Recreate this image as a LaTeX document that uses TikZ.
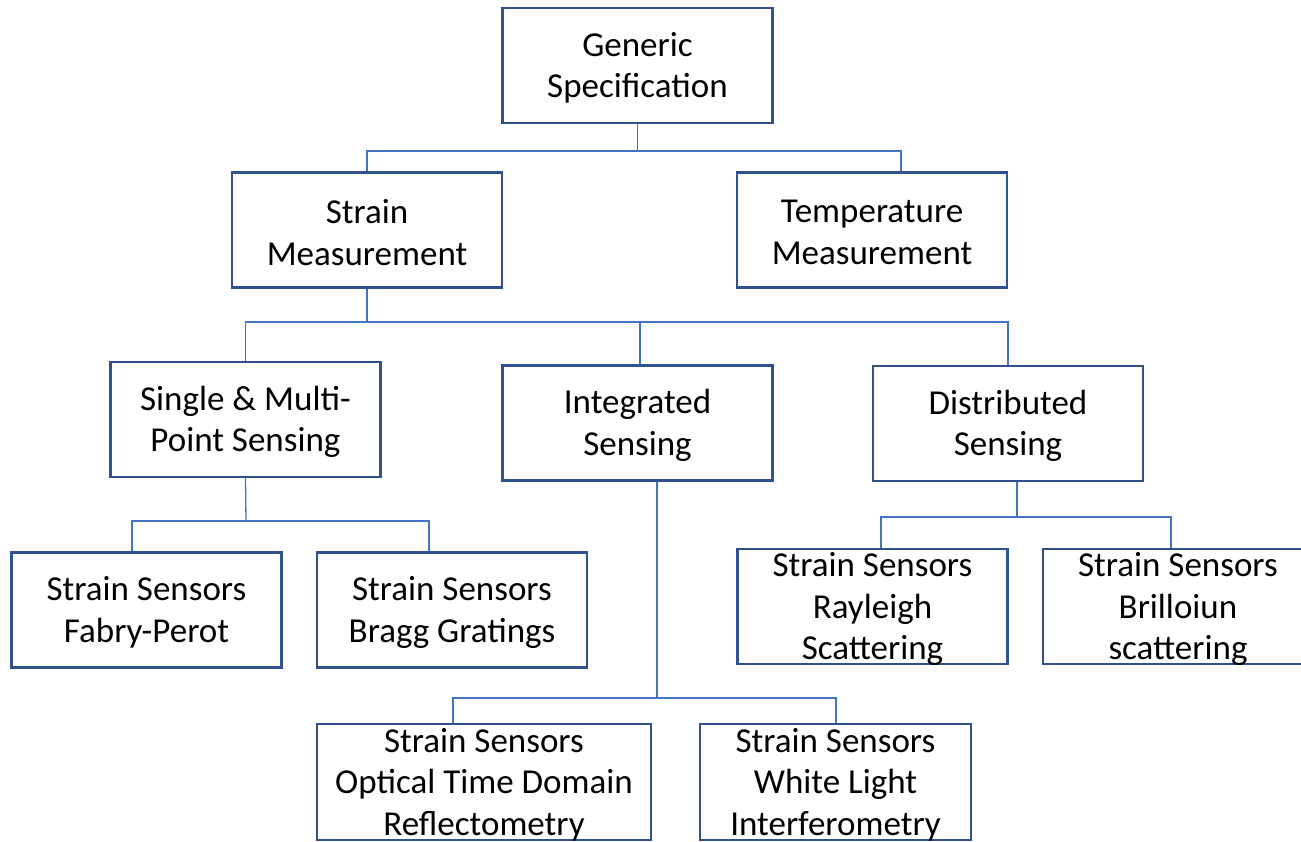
\documentclass[tikz,border=0pt]{standalone}
\usepackage{fontspec}
\setmainfont{Carlito}
\usetikzlibrary{calc}
\definecolor{boxblue}{HTML}{2F528F}
\definecolor{lineblue}{HTML}{4472C4}
\begin{document}
\begin{tikzpicture}[x=1pt,y=-1pt,
  box/.style={draw=boxblue, line width=2.2pt, minimum width=270pt, minimum height=115pt,
    inner sep=0pt},
  txt/.style={inner sep=0pt, align=center, yshift=-2.5pt, font=\fontsize{35}{41.5}\selectfont},
  conn/.style={draw=lineblue, line width=1.3pt}]
\useasboundingbox (0,0) rectangle (1301,842);
\clip (0,0) rectangle (1301,842);
\fill[white] (0,0) rectangle (1301,842);
% boxes
\node[box] (gen) at (637.5,65.5) {};
\node[txt] (genT) at (gen) {Generic\\Specification};
\node[box] (strain) at (367,230) {};
\node[txt] (strainT) at (strain) {Strain\\Measurement};
\node[box] (temp) at (872,230) {};
\node[txt] (tempT) at (temp) {Temperature\\Measurement};
\node[box] (single) at (245.5,419.5) {};
\node[txt] (singleT) at (single) {Single \& Multi-\\Point Sensing};
\node[box] (integ) at (637.5,423) {};
\node[txt] (integT) at (integ) {Integrated\\Sensing};
\node[box] (dist) at (1008,423.5) {};
\node[txt] (distT) at (dist) {Distributed\\Sensing};
\node[box] (fabry) at (146.5,610) {};
\node[txt] (fabryT) at (fabry) {Strain Sensors\\Fabry-Perot};
\node[box] (bragg) at (452,610) {};
\node[txt] (braggT) at (bragg) {Strain Sensors\\Bragg Gratings};
\node[box] (ray) at (872.5,606.5) {};
\node[txt] (rayT) at (ray) {Strain Sensors\\Rayleigh\\Scattering};
\node[box] (bril) at (1178,606.5) {};
\node[txt] (brilT) at (bril) {Strain Sensors\\Brilloiun\\scattering};
\node[box, minimum width=334pt, minimum height=116pt] (otdr) at (484,782) {};
\node[txt] (otdrT) at (otdr) {Strain Sensors\\Optical Time Domain\\Reflectometry};
\node[box, minimum width=271pt, minimum height=116pt] (white) at (835.5,782) {};
\node[txt] (whiteT) at (white) {Strain Sensors\\White Light\\Interferometry};
% junction coordinates
\coordinate (j1) at (637.5,151);
\coordinate (tempin) at ($(temp.north)+(29,0)$);
\coordinate (j2) at (367,322);
\coordinate (integin) at ($(integ.north)+(2.5,0)$);
\coordinate (j3) at (246,521);
\coordinate (fabryin) at ($(fabry.north)+(-14.5,0)$);
\coordinate (braggin) at ($(bragg.north)+(-23,0)$);
\coordinate (distout) at ($(dist.south)+(9,0)$);
\coordinate (j4) at (1017,517);
\coordinate (rayin) at ($(ray.north)+(8.5,0)$);
\coordinate (brilin) at ($(bril.north)+(-7,0)$);
\coordinate (integout) at ($(integ.south)+(19.5,0)$);
\coordinate (j5) at (657,698);
\coordinate (otdrin) at ($(otdr.north)+(-31,0)$);
\coordinate (whitein) at ($(white.north)+(0.5,0)$);
% connectors
\draw[conn] (gen.south) -- (j1);
\draw[conn] (strain.north) |- (j1) -| (tempin);
\draw[conn] (strain.south) -- (j2);
\draw[conn] (single.north) |- (j2) -| (dist.north);
\draw[conn] (integin) -- (integin |- j2);
\draw[conn] (single.south) -- (j3);
\draw[conn] (fabryin) |- (j3) -| (braggin);
\draw[conn] (distout) -- (j4);
\draw[conn] (rayin) |- (j4) -| (brilin);
\draw[conn] (integout) -- (j5);
\draw[conn] (otdrin) |- (j5) -| (whitein);
\end{tikzpicture}
\end{document}
